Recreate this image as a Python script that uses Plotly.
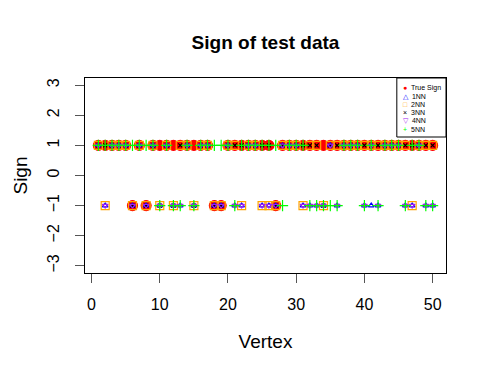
import plotly.graph_objects as go

# vertex index 1..50
vertex = list(range(1, 51))

# true sign of the test data and the predictions of the k-NN classifiers
true_sign = [1, 1, 1, 1, 1, -1, 1, -1, 1, 1,
             1, 1, 1, 1, 1, 1, 1, -1, -1, 1,
             1, 1, 1, 1, 1, 1, -1, 1, 1, 1,
             1, 1, 1, 1, 1, 1, 1, 1, 1, 1,
             1, 1, 1, 1, 1, 1, 1, 1, 1, 1]
nn1 = [1, -1, 1, 1, 1, -1, 1, -1, 1, -1,
       1, -1, -1, 1, -1, 1, 1, -1, -1, 1,
       -1, -1, 1, 1, -1, -1, -1, 1, 1, 1,
       -1, -1, -1, -1, 1, -1, 1, 1, 1, -1,
       -1, -1, 1, 1, 1, -1, -1, 1, -1, -1]
nn2 = [1, -1, 1, 1, 1, -1, 1, -1, 1, -1,
       1, -1, 1, 1, -1, 1, 1, -1, -1, 1,
       1, -1, 1, 1, -1, -1, -1, 1, 1, 1,
       -1, 1, 1, -1, 1, 1, 1, 1, 1, 1,
       1, 1, 1, 1, 1, 1, -1, 1, 1, 1]
nn3 = [1, 1, 1, 1, 1, -1, 1, -1, 1, -1,
       1, -1, 1, 1, -1, 1, 1, -1, -1, 1,
       1, 1, 1, 1, 1, 1, -1, 1, 1, 1,
       1, 1, 1, -1, 1, 1, 1, 1, 1, 1,
       1, 1, 1, 1, 1, 1, 1, 1, 1, 1]
nn4 = [1, -1, 1, 1, 1, -1, 1, -1, 1, -1,
       1, -1, -1, 1, -1, 1, 1, -1, -1, 1,
       -1, -1, 1, 1, -1, -1, -1, 1, 1, 1,
       -1, -1, -1, -1, 1, -1, 1, 1, 1, -1,
       1, -1, 1, 1, 1, -1, -1, 1, -1, -1]
nn5 = [1, 1, 1, 1, 1, 1, 1, 1, 1, -1,
       1, -1, -1, 1, -1, 1, 1, 1, 1, 1,
       -1, 1, 1, 1, 1, 1, 1, -1, 1, 1,
       1, -1, -1, -1, -1, -1, 1, 1, 1, -1,
       1, -1, 1, 1, 1, -1, 1, 1, -1, -1]

x_ticks = [0, 10, 20, 30, 40, 50]
y_ticks = [-3, -2, -1, 0, 1, 2, 3]

series = [
    # name, values, symbol, colour, size, legend glyph
    ('True Sign', true_sign, 'circle', 'red', 10, '\u25cf'),
    ('1NN', nn1, 'triangle-up-open', 'blue', 5, '\u25b3'),
    ('2NN', nn2, 'square-open', 'orange', 8, '\u25a1'),
    ('3NN', nn3, 'x-thin-open', 'black', 4, '\u00d7'),
    ('4NN', nn4, 'triangle-down-open', '#A020F0', 5, '\u25bd'),
    ('5NN', nn5, 'cross-thin-open', '#00FF00', 8, '+'),
]

fig = go.Figure()
for name, vals, sym, col, sz, glyph in series:
    fig.add_trace(go.Scatter(x=vertex, y=vals, mode='markers', name=name,
                             showlegend=False,
                             marker=dict(symbol=sym, color=col, size=sz,
                                         line=dict(width=1.2, color=col))))

# compact R-style legend in the top-right corner (plotly's own legend rows are too tall)
# the page body has an 8px margin, so the figure is 8px smaller and sits at (8, 8)
W, H = 479, 364
L, T, R, B = 71, 70, 41, 99
pw, ph = W - L - R, H - T - B
leg_left, leg_bottom = 396 - 8, 137 - 8
fig.add_shape(type='rect', xref='paper', yref='paper',
              x0=(leg_left - L) / pw, x1=1, y0=(H - B - leg_bottom) / ph, y1=1,
              line=dict(color='black', width=1), fillcolor='white', layer='above')
for i, (name, vals, sym, col, sz, glyph) in enumerate(series):
    yrow = 88 - 8 + i * 8.2
    fig.add_annotation(xref='paper', yref='paper', x=(400 - 8 - L) / pw,
                       y=(H - B - yrow) / ph, xanchor='left', yanchor='middle',
                       showarrow=False,
                       text=f"<span style='color:{col}'>{glyph}</span>  {name}",
                       font=dict(size=7, color='black'))

font = 'Liberation Sans, Arial, Helvetica, sans-serif'
fig.update_layout(
    width=W, height=H, showlegend=False,
    paper_bgcolor='white', plot_bgcolor='white',
    margin=dict(l=L, r=R, t=T, b=B),
    font=dict(family=font, size=16, color='black'),
    title=dict(text='<b>Sign of test data</b>', x=0.5, xref='paper',
               y=1 - 34 / H, yref='container', yanchor='middle',
               font=dict(size=19)),
)
fig.update_xaxes(range=[-0.96, 51.96], tickvals=x_ticks, ticks='outside', ticklen=9,
                 tickcolor='#555', showgrid=False, zeroline=False, ticklabelstandoff=8,
                 showline=True, mirror=True, linecolor='black', linewidth=1,
                 title=dict(text='Vertex', standoff=22))
fig.update_yaxes(range=[-3.24, 3.24], tickvals=y_ticks, ticks='outside', ticklen=9,
                 tickcolor='#555', tickangle=-90, showgrid=False, zeroline=False,
                 ticklabelstandoff=10,
                 showline=True, mirror=True, linecolor='black', linewidth=1,
                 title=dict(text='Sign', standoff=11))

fig.write_html("out.html")
